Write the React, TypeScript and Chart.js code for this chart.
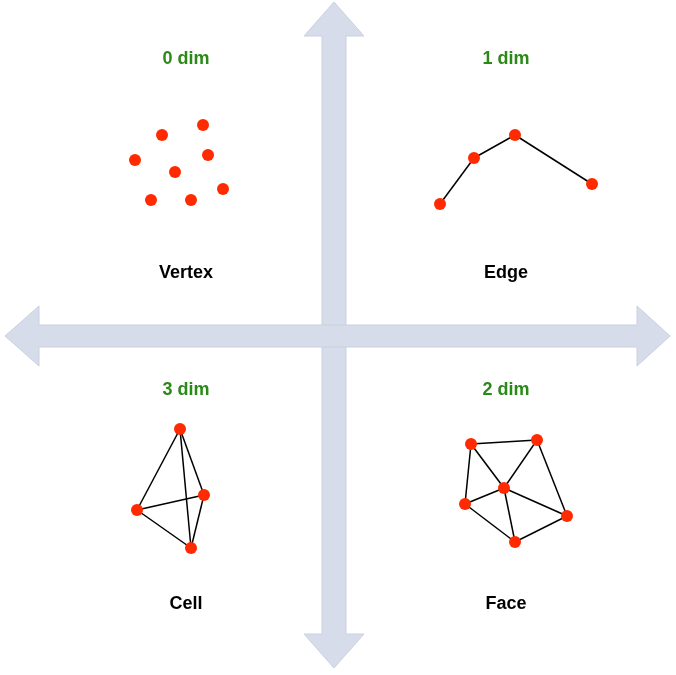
import { useEffect, useRef } from "react";
import { Chart, registerables } from "chart.js";

Chart.register(...registerables);

// diagram space equals the 676x675 picture, y down
const vertexPts = [[162, 135], [203, 125], [135, 160], [208, 155], [175, 172], [151, 200], [191, 200], [223, 189]];
const edgePts = [[440, 204], [474, 158], [515, 135], [592, 184]];
const edgeLinks = [[0, 1], [1, 2], [2, 3]];
const cellPts = [[180, 429], [137, 510], [204, 495], [191, 548]];
const cellLinks = [[0, 1], [0, 2], [0, 3], [1, 2], [1, 3], [2, 3]];
const facePts = [[471, 444], [537, 440], [504, 488], [465, 504], [567, 516], [515, 542]];
const faceLinks = [[0, 1], [0, 2], [1, 2], [1, 4], [0, 3], [3, 2], [2, 4], [3, 5], [5, 4], [2, 5]];

const dimLabels = [["0 dim", 186, 59], ["1 dim", 506, 59], ["3 dim", 186, 390], ["2 dim", 506, 390]];
const nameLabels = [["Vertex", 186, 273], ["Edge", 506, 273], ["Cell", 186, 604], ["Face", 506, 604]];

const RED = "#ff2a00";

const toXY = (pts: number[][]) => pts.map(([x, y]) => ({ x, y }));

function linkSets(pts: number[][], links: number[][]) {
  return links.map(([a, b]) => ({
    type: "scatter" as const,
    data: toXY([pts[a], pts[b]]),
    showLine: true,
    borderColor: "#000",
    borderWidth: 1.5,
    pointRadius: 0,
    order: 2,
  }));
}

const backdrop = {
  id: "backdrop",
  beforeDatasetsDraw(chart: any) {
    const { ctx, scales } = chart;
    const px = (x: number) => scales.x.getPixelForValue(x);
    const py = (y: number) => scales.y.getPixelForValue(y);
    const poly = (pts: number[][]) => {
      ctx.beginPath();
      pts.forEach(([x, y], i) => (i ? ctx.lineTo(px(x), py(y)) : ctx.moveTo(px(x), py(y))));
      ctx.closePath();
      ctx.fill();
      ctx.stroke();
    };
    ctx.save();
    ctx.fillStyle = "#d6dce9";
    ctx.strokeStyle = "#c9d0df";
    ctx.lineWidth = 1;
    // vertical double arrow
    poly([[334, 2], [364, 36], [346, 36], [346, 634], [364, 634], [334, 668], [304, 634], [322, 634], [322, 36], [304, 36]]);
    // horizontal double arrow
    poly([[5, 336], [39, 306], [39, 325], [637, 325], [637, 306], [670, 336], [637, 366], [637, 347], [39, 347], [39, 366]]);
    ctx.restore();
  },
  afterDatasetsDraw(chart: any) {
    const { ctx, scales } = chart;
    ctx.save();
    ctx.textAlign = "center";
    ctx.textBaseline = "middle";
    ctx.font = "bold 18px 'Liberation Sans', Arial, sans-serif";
    ctx.fillStyle = "#2a8a17";
    dimLabels.forEach(([t, x, y]: any) => ctx.fillText(t, scales.x.getPixelForValue(x), scales.y.getPixelForValue(y)));
    ctx.fillStyle = "#000";
    nameLabels.forEach(([t, x, y]: any) => ctx.fillText(t, scales.x.getPixelForValue(x), scales.y.getPixelForValue(y)));
    ctx.restore();
  },
};

export default function App() {
  const canvasRef = useRef<HTMLCanvasElement>(null);

  useEffect(() => {
    if (!canvasRef.current) return;
    const pointSet = (pts: number[][]) => ({
      type: "scatter" as const,
      data: toXY(pts),
      pointRadius: 6,
      pointBackgroundColor: RED,
      pointBorderColor: RED,
      pointBorderWidth: 0,
      order: 1,
    });
    const chart = new Chart(canvasRef.current, {
      type: "scatter",
      data: {
        datasets: [
          ...linkSets(edgePts, edgeLinks),
          ...linkSets(cellPts, cellLinks),
          ...linkSets(facePts, faceLinks),
          pointSet(vertexPts),
          pointSet(edgePts),
          pointSet(cellPts),
          pointSet(facePts),
        ] as any,
      },
      options: {
        animation: false,
        responsive: true,
        maintainAspectRatio: false,
        layout: { padding: 0, autoPadding: false },
        plugins: { legend: { display: false }, tooltip: { enabled: false } },
        scales: {
          x: { type: "linear", min: 0, max: 676, display: false },
          y: { type: "linear", min: 0, max: 675, reverse: true, display: false },
        },
      },
      plugins: [backdrop],
    });
    return () => chart.destroy();
  }, []);

  return (
    <div style={{ position: "absolute", left: 0, top: 0, width: 676, height: 675, background: "#fff" }}>
      <canvas ref={canvasRef}></canvas>
    </div>
  );
}
